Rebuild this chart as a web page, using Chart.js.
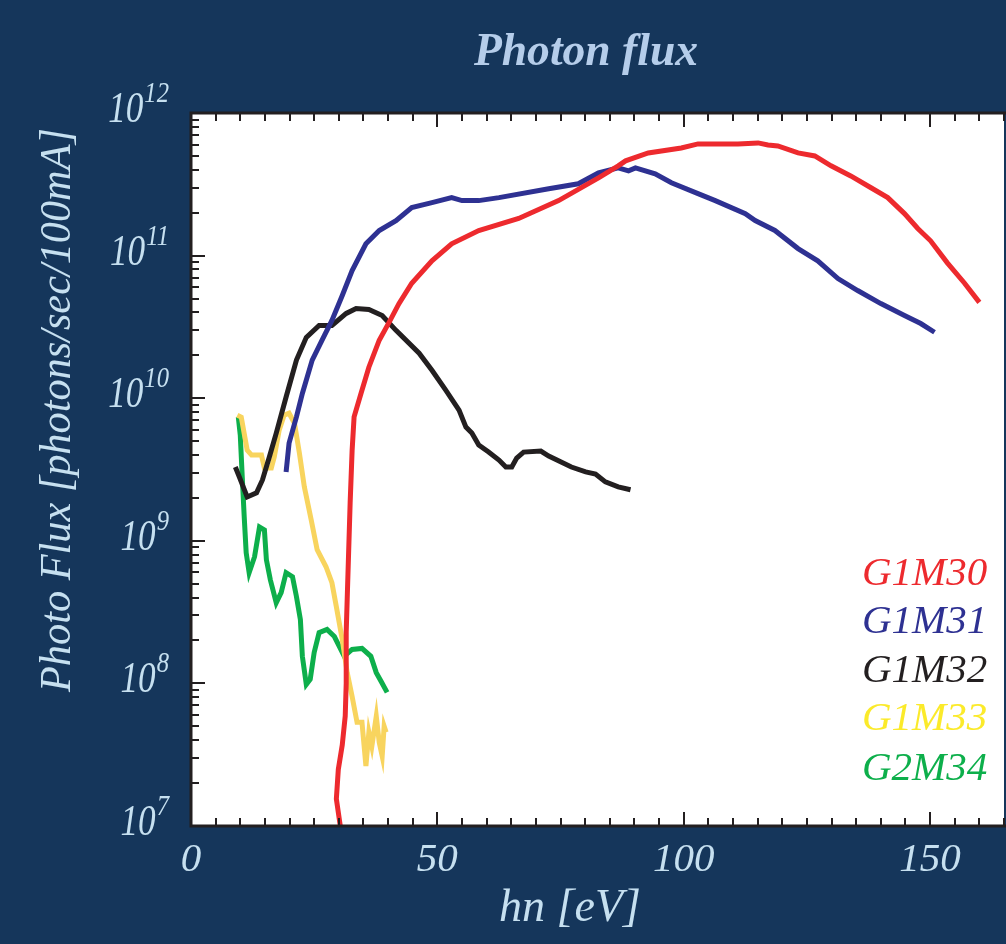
<!DOCTYPE html>
<html>
<head>
<meta charset="utf-8">
<script src="https://cdn.jsdelivr.net/npm/chart.js@4"></script>
<style>
  html, body { margin: 0; padding: 0; background: #15365b; }
  canvas { display: block; }
</style>
</head>
<body>
<canvas id="fluxChart" width="1006" height="944"></canvas>
<script>
// photon energy [eV] and flux [photons/sec/100mA]
const g1m30Energy = [30.3, 29.5, 29.9, 30.7, 31.3, 31.5, 31.5, 31.7, 32.3, 32.7, 33.1, 34.5, 36.1, 38.2, 40.2, 42.2, 44.8, 48.9, 52.9, 58.4, 66.5, 74.6, 82.7, 86.7, 88.2, 92.8, 99.5, 102.9, 111.0, 115.1, 117.1, 119.1, 123.2, 126.6, 129.9, 133.9, 138.0, 141.4, 144.8, 147.5, 150.1, 153.5, 157.0, 160.0]
const g1m30Flux = [1.0e7, 1.55e7, 2.5e7, 3.7e7, 5.9e7, 1.0e8, 2.3e8, 3.9e8, 1.85e9, 4.3e9, 7.4e9, 1.08e10, 1.65e10, 2.55e10, 3.4e10, 4.6e10, 6.4e10, 9.2e10, 1.21e11, 1.5e11, 1.82e11, 2.43e11, 3.51e11, 4.26e11, 4.62e11, 5.25e11, 5.69e11, 6.07e11, 6.07e11, 6.17e11, 5.97e11, 5.88e11, 5.25e11, 5.0e11, 4.26e11, 3.62e11, 2.99e11, 2.55e11, 1.97e11, 1.55e11, 1.27e11, 8.9e10, 6.4e10, 4.7e10]

const g1m31Energy = [19.3, 19.9, 21.4, 22.6, 24.6, 26.6, 28.6, 30.7, 32.7, 35.5, 38.2, 41.6, 44.8, 48.9, 52.9, 55.0, 58.4, 62.5, 72.6, 78.6, 82.7, 86.7, 88.8, 90.2, 94.2, 97.5, 102.9, 106.4, 112.5, 114.5, 118.5, 123.2, 127.2, 131.3, 135.3, 140.0, 144.8, 148.1, 150.9]
const g1m31Flux = [3.04e9, 4.84e9, 7.4e9, 1.08e10, 1.85e10, 2.55e10, 3.51e10, 5.25e10, 7.85e10, 1.21e11, 1.5e11, 1.76e11, 2.17e11, 2.35e11, 2.55e11, 2.43e11, 2.43e11, 2.55e11, 2.94e11, 3.19e11, 3.8e11, 4.12e11, 3.93e11, 4.12e11, 3.74e11, 3.24e11, 2.72e11, 2.43e11, 1.97e11, 1.76e11, 1.5e11, 1.12e11, 9.2e10, 6.9e10, 5.69e10, 4.61e10, 3.8e10, 3.34e10, 2.9e10]

const g1m32Energy = [9.0, 9.8, 11.4, 13.3, 14.5, 15.9, 17.3, 19.3, 21.4, 23.4, 26.0, 28.6, 31.5, 33.5, 36.1, 38.8, 41.6, 46.3, 48.9, 51.7, 54.4, 55.8, 57.0, 58.4, 60.4, 62.5, 63.9, 65.1, 66.1, 67.5, 71.0, 72.6, 77.2, 80.1, 82.1, 84.1, 86.7, 89.2]
const g1m32Flux = [3.29e9, 2.81e9, 2.03e9, 2.17e9, 2.67e9, 3.87e9, 5.69e9, 1.02e10, 1.85e10, 2.67e10, 3.24e10, 3.24e10, 3.93e10, 4.26e10, 4.19e10, 3.8e10, 2.99e10, 2.07e10, 1.57e10, 1.14e10, 8.25e9, 6.27e9, 5.69e9, 4.69e9, 4.19e9, 3.68e9, 3.29e9, 3.29e9, 3.8e9, 4.19e9, 4.26e9, 3.93e9, 3.29e9, 3.04e9, 2.94e9, 2.59e9, 2.39e9, 2.28e9]

const g1m33Energy = [9.4, 10.2, 11.4, 12.3, 14.3, 14.9, 16.3, 16.9, 17.9, 18.9, 19.9, 21.0, 22.0, 23.0, 24.4, 25.6, 27.4, 28.6, 29.5, 30.7, 31.7, 32.7, 33.7, 34.7, 35.5, 36.1, 36.7, 37.6, 38.2, 38.8, 39.2, 39.6]
const g1m33Flux = [7.6e9, 7.37e9, 4.33e9, 3.99e9, 3.99e9, 3.24e9, 3.24e9, 3.87e9, 5.97e9, 7.6e9, 7.85e9, 6.68e9, 4.12e9, 2.39e9, 1.4e9, 8.65e8, 6.58e8, 5.08e8, 3.45e8, 2.03e8, 1.19e8, 8.1e7, 5.33e7, 5.33e7, 2.63e7, 4.54e7, 3.62e7, 5.88e7, 3.86e7, 3.09e7, 5.0e7, 4.54e7]

const g2m34Energy = [9.6, 10.0, 10.4, 10.8, 11.2, 11.8, 12.9, 13.9, 14.9, 15.3, 16.1, 17.3, 18.3, 19.3, 20.6, 21.4, 22.2, 22.6, 23.4, 24.2, 25.0, 26.0, 27.6, 29.1, 31.1, 32.7, 34.7, 36.5, 37.6, 38.6, 39.8]
const g2m34Flux = [7.37e9, 5.51e9, 2.81e9, 1.47e9, 8.24e8, 5.97e8, 7.73e8, 1.25e9, 1.19e9, 7.36e8, 5.33e8, 3.68e8, 4.33e8, 5.97e8, 5.6e8, 4.06e8, 2.8e8, 1.55e8, 9.84e7, 1.07e8, 1.65e8, 2.27e8, 2.39e8, 2.13e8, 1.55e8, 1.73e8, 1.76e8, 1.55e8, 1.19e8, 1.03e8, 8.65e7]

const seriesNames = ['G1M30', 'G1M31', 'G1M32', 'G1M33', 'G2M34']
const xTickLabels = [0, 50, 100, 150]
const yDecades = [7, 8, 9, 10, 11, 12]

const lineColors = ['#ed2a2e', '#2e3192', '#231f20', '#f8d45e', '#0daf4b']
const textColors = ['#ed2a2e', '#2e3192', '#231f20', '#fbea2a', '#0daf4b']
const serif = "'Liberation Serif', 'DejaVu Serif', serif"
const paleBlue = '#c6e0f0'

function points(xs, ys) {
	return xs.map((v, i) => ({ x: v, y: ys[i] }))
}

const curves = [
	points(g1m30Energy, g1m30Flux),
	points(g1m31Energy, g1m31Flux),
	points(g1m32Energy, g1m32Flux),
	points(g1m33Energy, g1m33Flux),
	points(g2m34Energy, g2m34Flux)
]

// text squeezed sideways, the original uses a narrow italic
function narrowText(ctx, text, x, y, sx) {
	ctx.save()
	ctx.translate(x, y)
	ctx.scale(sx, 1)
	ctx.fillText(text, 0, 0)
	ctx.restore()
}

// frame, inward ticks, superscript labels, titles and text legend
const decor = {
	id: 'decor',
	beforeDraw(chart) {
		const { ctx, chartArea: a } = chart
		ctx.save()
		ctx.fillStyle = '#15365b'
		ctx.fillRect(0, 0, chart.width, chart.height)
		ctx.fillStyle = '#ffffff'
		ctx.fillRect(a.left, a.top, a.right - a.left, a.bottom - a.top)
		ctx.restore()
	},
	afterDraw(chart) {
		const { ctx, chartArea: a } = chart
		const x = chart.scales.x
		const y = chart.scales.y
		ctx.save()
		ctx.strokeStyle = '#231f20'
		ctx.lineWidth = 2
		ctx.beginPath()
		for (let v = 0; v <= x.max; v += 5) {
			const px = Math.round(x.getPixelForValue(v))
			const len = v % 50 === 0 ? 14 : 8
			ctx.moveTo(px, a.bottom)
			ctx.lineTo(px, a.bottom - len)
			ctx.moveTo(px, a.top)
			ctx.lineTo(px, a.top + len)
		}
		for (let e = 7; e < 12; e++) {
			for (let m = 1; m <= 9; m++) {
				const py = Math.round(y.getPixelForValue(m * Math.pow(10, e)))
				const len = m === 1 ? 14 : 8
				ctx.moveTo(a.left, py)
				ctx.lineTo(a.left + len, py)
			}
		}
		ctx.stroke()

		ctx.lineWidth = 3
		ctx.beginPath()
		ctx.moveTo(a.right + 2, a.top)
		ctx.lineTo(a.left, a.top)
		ctx.lineTo(a.left, a.bottom)
		ctx.lineTo(a.right + 2, a.bottom)
		ctx.stroke()

		// y labels as 10 with a raised exponent
		ctx.fillStyle = paleBlue
		ctx.textBaseline = 'alphabetic'
		ctx.textAlign = 'left'
		yDecades.forEach(e => {
			const py = y.getPixelForValue(Math.pow(10, e))
			ctx.font = 'italic 44px ' + serif
			const w1 = ctx.measureText('10').width * 0.8
			ctx.font = 'italic 29px ' + serif
			const w2 = ctx.measureText(String(e)).width * 0.85
			const right = 168
			ctx.font = 'italic 44px ' + serif
			narrowText(ctx, '10', right - w2 - w1, py + 9, 0.8)
			ctx.font = 'italic 29px ' + serif
			narrowText(ctx, String(e), right - w2 + 1, py - 11, 0.85)
		})

		// title
		ctx.textAlign = 'center'
		ctx.fillStyle = '#b5cdea'
		ctx.font = 'italic bold 47px ' + serif
		narrowText(ctx, 'Photon flux', 586, 65, 0.97)

		// axis titles
		ctx.fillStyle = paleBlue
		ctx.font = 'italic 46px ' + serif
		ctx.fillText('hn [eV]', 570, 921)
		ctx.save()
		ctx.translate(70, 410)
		ctx.rotate(-Math.PI / 2)
		ctx.font = 'italic 45px ' + serif
		narrowText(ctx, 'Photo Flux [photons/sec/100mA]', 0, 0, 0.94)
		ctx.restore()

		// legend
		const legendY = [585, 633, 682, 730, 780]
		ctx.textAlign = 'left'
		ctx.font = 'italic 41px ' + serif
		chart.data.datasets.forEach((ds, i) => {
			ctx.fillStyle = textColors[i]
			ctx.fillText(ds.label, 862, legendY[i])
		})
		ctx.restore()
	}
}

const ctx = document.getElementById('fluxChart')
const chart = new Chart(ctx, {
	type: 'line',
	data: {
		datasets: seriesNames.map((name, i) => ({
			label: name,
			data: curves[i],
			borderColor: lineColors[i],
			borderWidth: 5,
			pointRadius: 0,
			fill: false,
			tension: 0
		}))
	},
	options: {
		responsive: false,
		animation: false,
		layout: { padding: { top: 113, left: 0, right: 0, bottom: 0 } },
		plugins: {
			legend: { display: false },
			title: { display: false },
			tooltip: { enabled: false }
		},
		scales: {
			x: {
				type: 'linear',
				min: 0,
				max: 165,
				grid: { display: false },
				border: { display: false },
				afterFit(scale) { scale.height = 118 },
				ticks: {
					stepSize: 5,
					autoSkip: false,
					maxRotation: 0,
					padding: 2,
					color: paleBlue,
					font: { family: serif, style: 'italic', size: 41 },
					callback: v => xTickLabels.includes(v) ? String(v) : ''
				}
			},
			y: {
				type: 'logarithmic',
				min: 1e7,
				max: 1e12,
				grid: { display: false },
				border: { display: false },
				afterFit(scale) { scale.width = 191 },
				ticks: { display: false }
			}
		}
	},
	plugins: [decor]
})
</script>
</body>
</html>
